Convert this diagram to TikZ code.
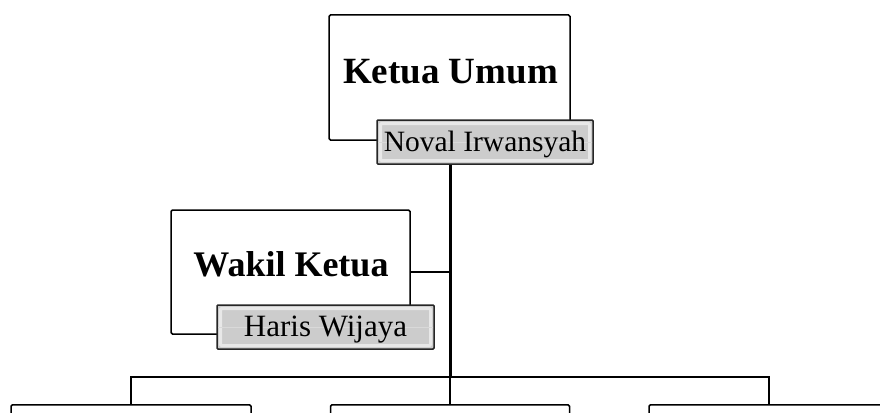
\documentclass[tikz,border=0pt]{standalone}
\usepackage{fontspec}
\setmainfont{Liberation Serif}
\begin{document}
\begin{tikzpicture}[x=1pt,y=-1pt,
  box/.style={draw=black, line width=1.5pt, rounded corners=1.5pt, fill=white, inner sep=0pt},
  namebox/.style={draw=black!85, line width=1.5pt, fill=black!20, inner sep=0pt, rounded corners=1pt,
    minimum width=216pt, minimum height=44pt, text height=20pt, text depth=2pt,
    font=\fontsize{29.5}{32}\selectfont,
    path picture={\draw[black!9, line width=3pt] ([xshift=3.5pt,yshift=-3.5pt]path picture bounding box.north west) rectangle ([xshift=-3.5pt,yshift=3.5pt]path picture bounding box.south east);
      \draw[black!15, line width=0.8pt] ([yshift=-22pt]path picture bounding box.north west) -- ([yshift=-22pt]path picture bounding box.north east);}},
  titletext/.style={font=\bfseries\fontsize{37}{40}\selectfont, inner sep=0pt},
  conn/.style={draw=black, line width=2pt},
  trunk/.style={draw=black, line width=3pt},
  bus/.style={draw=black, line width=2.4pt}
]
\useasboundingbox (0,0) rectangle (880,412);
\clip (0,0) rectangle (880,412);

\coordinate (busC) at (450,377);
\node[box, minimum width=239pt, minimum height=124pt] (wakil) at (290.5,272) {};
\node[box, minimum width=241pt, minimum height=125pt] (ketua) at (449.5,77.5) {};
\node[box, minimum width=240pt, minimum height=60pt, anchor=north] (b1) at (131,404) {};
\node[box, minimum width=239pt, minimum height=60pt, anchor=north] (b2) at (450,404) {};
\node[box, minimum width=240pt, minimum height=60pt, anchor=north] (b3) at (769,404) {};

\node[namebox] (noval) at (485,142) {Noval Irwansyah};
\node[namebox, minimum width=217pt, font=\fontsize{31}{34}\selectfont] (haris) at (325.5,327) {Haris Wijaya};

\node[titletext] (ketuaT) at (450.5,72) {Ketua Umum};
\node[titletext, font=\bfseries\fontsize{36}{40}\selectfont] (wakilT) at (291,264) {Wakil Ketua};

\draw[trunk] (noval.south -| busC) -- (busC);
\draw[conn] (wakil.east) -- (wakil.east -| busC);
\draw[bus] (b1.north) |- (busC) -| (b3.north);
\draw[conn] (busC) -- (b2.north);
\end{tikzpicture}
\end{document}
